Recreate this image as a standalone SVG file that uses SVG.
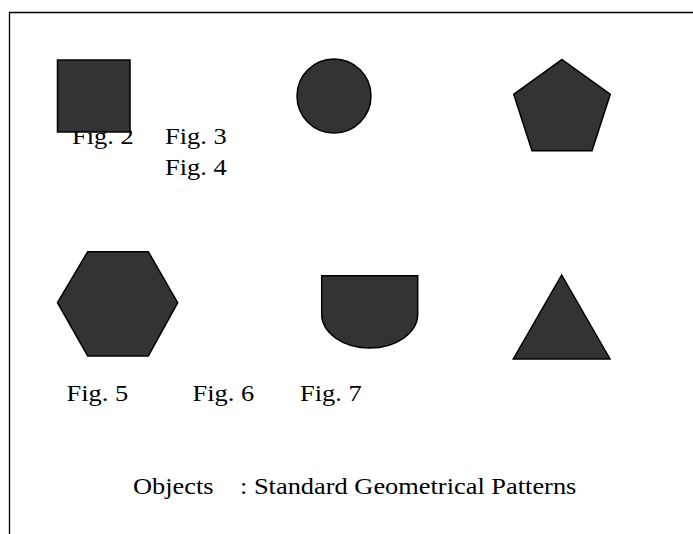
<svg xmlns="http://www.w3.org/2000/svg" width="693" height="534" viewBox="0 0 693 534">
<style>
.t{font-family:"Liberation Serif","Times New Roman",serif;font-size:24px;fill:#000}
.s{fill:#333333;stroke:#000;stroke-width:1.5;stroke-linejoin:miter}
.f{fill:none;stroke:#000;stroke-width:1.3}
</style>
<rect width="693" height="534" fill="#fff"/>
<g id="frame"><path class="f" d="M9.5,534 V12.5 H693"/></g>
<g id="labels">
<text class="t" transform="translate(72,143.5) scale(1.1,1)">Fig. 2</text>
<text class="t" transform="translate(165,143.5) scale(1.1,1)">Fig. 3</text>
<text class="t" transform="translate(165,174.5) scale(1.1,1)">Fig. 4</text>
<text class="t" transform="translate(66.5,401) scale(1.1,1)">Fig. 5</text>
<text class="t" transform="translate(192.5,401) scale(1.1,1)">Fig. 6</text>
<text class="t" transform="translate(300,401) scale(1.1,1)">Fig. 7</text>
</g>
<g id="square"><rect class="s" x="57.5" y="60" width="72.5" height="72"/></g>
<g id="circle"><circle class="s" cx="334" cy="96" r="37"/></g>
<g id="pentagon"><polygon class="s" points="562,59.5 610.3,94.3 592,150.7 532,150.7 513.7,94.3"/></g>
<g id="hexagon"><polygon class="s" points="57.5,302.7 87.7,251.7 148.3,251.7 177.7,302.7 148.3,356 87.7,356"/></g>
<g id="halfround"><path class="s" d="M321.7,275.7 H417.7 V314 A48,34 0 0 1 321.7,314 Z"/></g>
<g id="triangle"><polygon class="s" points="561.7,275 610,359 513.3,359"/></g>
<g id="caption">
<text class="t" transform="translate(133,493.5) scale(1.1,1)">Objects</text>
<text class="t" transform="translate(240,493.5) scale(1.1,1)">: Standard Geometrical Patterns</text>
</g>
</svg>
